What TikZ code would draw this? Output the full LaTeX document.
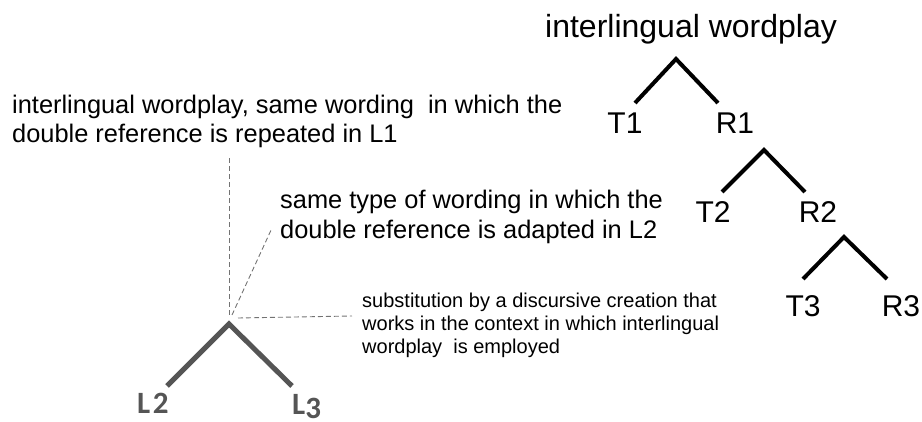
\documentclass[tikz,border=0pt]{standalone}
\usepackage{fontspec}
\setmainfont{Liberation Sans}
\newfontfamily\lfont{Carlito}
\definecolor{lgray}{RGB}{85,85,85}
\definecolor{dgray}{RGB}{115,115,115}
\begin{document}
\begin{tikzpicture}[x=1pt,y=1pt,
  branch/.style={line width=4pt, line join=miter},
  lbranch/.style={line width=5pt, draw=lgray, line join=miter},
  lab/.style={inner sep=0pt, font=\fontsize{30}{36}\selectfont},
  llab/.style={inner sep=0pt, anchor=base west, text=lgray, font=\lfont\bfseries\fontsize{31}{34}\selectfont},
  note/.style={inner sep=0pt, align=left, anchor=north west},
  guide/.style={draw=dgray, line width=0.9pt, dash pattern=on 5pt off 3pt}]
\useasboundingbox (0,0) rectangle (922,421);
% title
\node[inner sep=0pt, anchor=base west, font=\fontsize{32}{38}\selectfont] (title) at (545,383) {interlingual wordplay};
% tree 1
\coordinate (a1) at (676,362);
\coordinate (a1l) at (635,318);
\coordinate (a1r) at (718,318);
\draw[branch] (a1l) -- (a1) -- (a1r);
\node[lab] (T1) at (625,298) {T1};
\node[lab] (R1) at (735,298) {R1};
% tree 2
\coordinate (a2) at (764,271);
\coordinate (a2l) at (722,229);
\coordinate (a2r) at (805,229);
\draw[branch] (a2l) -- (a2) -- (a2r);
\node[lab] (T2) at (713,209) {T2};
\node[lab] (R2) at (818,209) {R2};
% tree 3
\coordinate (a3) at (844,184);
\coordinate (a3l) at (803,142);
\coordinate (a3r) at (887,142);
\draw[branch] (a3l) -- (a3) -- (a3r);
\node[lab] (T3) at (803,115) {T3};
\node[lab] (R3) at (901,115) {R3};
% notes
\node[note, font=\fontsize{25.4}{28.5}\selectfont] (n1) at (12,326)
  {interlingual wordplay, same wording\ \ in which the\\double reference is repeated in L1};
\node[note, font=\fontsize{25.4}{29.5}\selectfont] (n2) at (280,231)
  {same type of wording in which the\\double reference is adapted in L2};
\node[note, font=\fontsize{20}{23}\selectfont] (n3) at (362,128.5)
  {substitution by a discursive creation that\\works in the context in which interlingual\\wordplay\ \ is employed};
% small tree
\coordinate (s) at (229,97);
\coordinate (sl) at (167,35);
\coordinate (sr) at (292,35);
\draw[lbranch] (sl) -- (s) -- (sr);
\node[llab] (L2) at (137,8) {L\kern2.5pt2};
\node[llab] (L3) at (292,6.5) {L\raisebox{-3.5pt}{3}};
% guides
\coordinate (g1t) at (229,263);
\coordinate (g1b) at (229,106);
\coordinate (g2t) at (272,193);
\coordinate (g2b) at (232,106);
\coordinate (g3l) at (238,103);
\coordinate (g3r) at (352,105);
\draw[guide] (g1b) -- (g1t);
\draw[guide] (g2b) -- (g2t);
\draw[guide] (g3l) -- (g3r);
\end{tikzpicture}
\end{document}
